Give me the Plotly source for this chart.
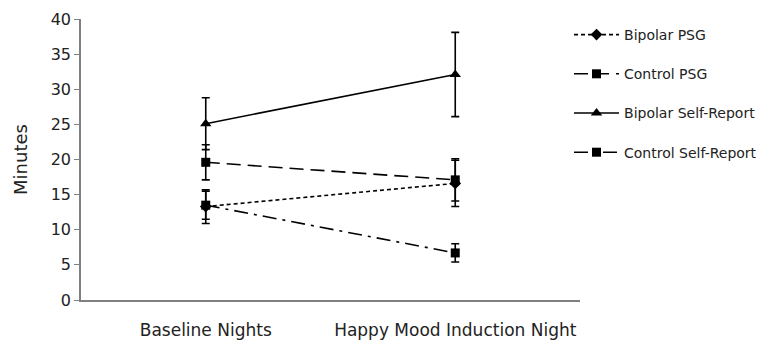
import plotly.graph_objects as go

categories = ["Baseline Nights", "Happy Mood Induction Night"]
series_names = ["Bipolar PSG", "Control PSG", "Bipolar Self-Report", "Control Self-Report"]
bipolar_psg = [13.3, 16.6]
bipolar_psg_err = [2.4, 3.3]
control_psg = [19.6, 17.1]
control_psg_err = [2.5, 3.0]
bipolar_sr = [25.1, 32.1]
bipolar_sr_err = [3.7, 6.0]
control_sr = [13.5, 6.7]
control_sr_err = [2.0, 1.3]
y_ticks = [0, 5, 10, 15, 20, 25, 30, 35, 40]

styles = [
    ("4px,3px", "diamond", 9),
    ("14px,7px", "square", 9),
    ("solid", "triangle-up", 10),
    ("14px,6px,3px,6px", "square", 9),
]
data = [
    (bipolar_psg, bipolar_psg_err),
    (control_psg, control_psg_err),
    (bipolar_sr, bipolar_sr_err),
    (control_sr, control_sr_err),
]

FONT = "DejaVu Sans, Arial, sans-serif"

fig = go.Figure()
for i, (name, (vals, errs), (dash, sym, sz)) in enumerate(zip(series_names, data, styles)):
    fig.add_trace(go.Scatter(
        x=categories, y=vals, name=name, mode="lines+markers",
        line=dict(color="black", width=1.6, dash=dash),
        marker=dict(color="black", symbol=sym, size=sz),
        error_y=dict(type="data", array=errs, visible=True, color="black", thickness=1.6, width=4),
        legendgroup=str(i),
    ))

# page body has an 8px default margin, so the figure is sized/offset to compensate
fig.update_layout(
    width=756, height=339,
    margin=dict(l=73, r=184, t=11, b=47, autoexpand=False),
    paper_bgcolor="white", plot_bgcolor="white",
    font=dict(family=FONT, color="#222", size=15),
    showlegend=True,
    legend=dict(x=0.978, xanchor="left", y=1.0, yanchor="top", xref="paper",
                font=dict(size=14, color="#222", family=FONT), tracegroupgap=18, itemwidth=45,
                bgcolor="rgba(0,0,0,0)"),
    xaxis=dict(type="category", range=[-0.5, 1.5], showline=True, linecolor="#808080",
               linewidth=1.5, ticks="outside", ticklen=14, tickcolor="rgba(0,0,0,0)",
               showgrid=False, zeroline=False, automargin=False,
               tickfont=dict(size=17, family=FONT, color="#222")),
    yaxis=dict(range=[0, 40], tickvals=y_ticks, showline=True, linecolor="#808080",
               linewidth=1.5, ticks="outside", ticklen=5, tickcolor="#808080",
               showgrid=False, zeroline=False, automargin=False, ticklabeloverflow="allow",
               tickfont=dict(size=16, family=FONT, color="#222"),
               title=dict(text="Minutes", font=dict(size=18, family=FONT, color="#222"), standoff=18)),
)

fig.write_html("out.html")
